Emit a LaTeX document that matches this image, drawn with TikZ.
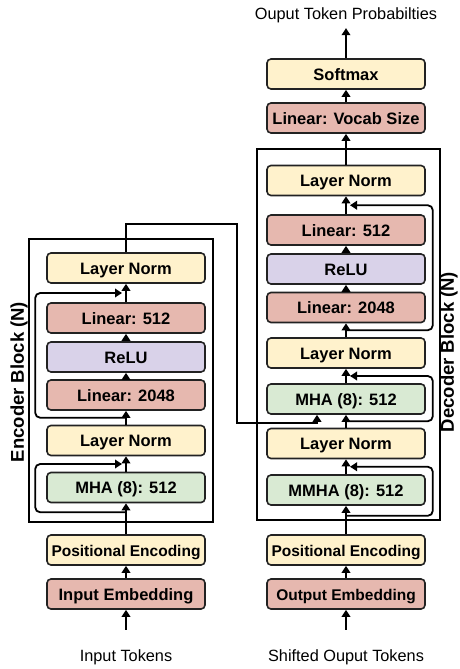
\documentclass[tikz,border=0pt]{standalone}
\usepackage{fontspec}
\setmainfont{Liberation Sans}
\usepackage{tikz}
\usetikzlibrary{arrows.meta,calc}

\definecolor{normcol}{HTML}{FFF2CC}
\definecolor{lincol}{HTML}{E6B8AF}
\definecolor{relucol}{HTML}{D9D2E9}
\definecolor{attcol}{HTML}{D9EAD3}
\definecolor{edgecol}{HTML}{222222}

\begin{document}
\begin{tikzpicture}[x=1pt,y=-1pt,
    layer/.style={draw=edgecol,line width=1.6pt,rounded corners=4pt,
      minimum width=158pt,minimum height=30pt,inner sep=0pt,
      text height=12.5pt,text depth=0pt,
      font=\fontsize{16.5}{18}\selectfont\bfseries},
    narrow/.style={font=\fontsize{15.5}{18}\selectfont\bfseries},
    caption/.style={font=\fontsize{16.3}{18}\selectfont},
    blocklabel/.style={rotate=90,font=\fontsize{18.5}{22}\selectfont\bfseries},
    block/.style={draw=black,line width=1.8pt},
    arr/.style={line width=1.8pt,-{Triangle[length=7pt,width=8.5pt]}},
    res/.style={arr,rounded corners=5pt}]
  \useasboundingbox (0,0) rectangle (459,669);

  % encoder side
  \draw[block] (29,239) rectangle (213,522);
  \node[blocklabel] (encLabel) at (19,382) {Encoder Block (N)};
  \node[caption] (encIn) at (126,657) {Input Tokens};
  \node[layer,fill=lincol] (encEmb) at (126,594) {Input Embedding};
  \node[layer,fill=normcol,narrow] (encPos) at (126,550) {Positional Encoding};
  \node[layer,fill=attcol] (encMHA) at (126,487.5) {MHA (8): 512};
  \node[layer,fill=normcol] (encNormA) at (126,440.5) {Layer Norm};
  \node[layer,fill=lincol] (encLinA) at (126,395) {Linear: 2048};
  \node[layer,fill=relucol] (encReLU) at (126,357) {ReLU};
  \node[layer,fill=lincol] (encLinB) at (126,318) {Linear: 512};
  \node[layer,fill=normcol] (encNormB) at (126,268) {Layer Norm};

  \draw[arr] ([yshift=16pt]encIn.north) -- (encEmb);
  \draw[arr] (encEmb) -- (encPos);
  \draw[arr] (encPos) -- (encMHA);
  \draw[arr] (encMHA) -- (encNormA);
  \draw[arr] (encNormA) -- (encLinA);
  \draw[arr] (encLinA) -- (encReLU);
  \draw[arr] (encReLU) -- (encLinB);
  \draw[arr] (encLinB) -- (encNormB);
  % residuals (left)
  \draw[res] ($(encMHA.south)+(0,9)$) -| ([xshift=-11pt]encMHA.west)
    |- ([xshift=-4pt]$(encMHA.north)!.5!(encNormA.south)$);
  \draw[res] ($(encLinA.south)!.5!(encNormA.north)$) -| ([xshift=-11pt]encReLU.west)
    |- ([xshift=-4pt]$(encLinB.north)!.5!(encNormB.south)$);

  % decoder side
  \draw[block] (257,149) rectangle (440,520);
  \node[blocklabel] (decLabel) at (449,352) {Decoder Block (N)};
  \node[caption] (decIn) at (346,657) {Shifted Ouput Tokens};
  \node[layer,fill=lincol,narrow] (decEmb) at (346,594) {Output Embedding};
  \node[layer,fill=normcol,narrow] (decPos) at (346,550) {Positional Encoding};
  \node[layer,fill=attcol] (decMMHA) at (346,490) {MMHA (8): 512};
  \node[layer,fill=normcol] (decNormA) at (346,443.5) {Layer Norm};
  \node[layer,fill=attcol] (decMHA) at (346,399) {MHA (8): 512};
  \node[layer,fill=normcol] (decNormB) at (346,353) {Layer Norm};
  \node[layer,fill=lincol] (decLinA) at (346,307.5) {Linear: 2048};
  \node[layer,fill=relucol] (decReLU) at (346,269) {ReLU};
  \node[layer,fill=lincol] (decLinB) at (346,230) {Linear: 512};
  \node[layer,fill=normcol] (decNormC) at (346,180.5) {Layer Norm};
  \node[layer,fill=lincol] (vocab) at (346,118) {Linear: Vocab Size};
  \node[layer,fill=normcol] (softmax) at (346,74) {Softmax};
  \node[caption] (decOut) at (346,15) {Ouput Token Probabilties};

  \draw[arr] ([yshift=16pt]decIn.north) -- (decEmb);
  \draw[arr] (decEmb) -- (decPos);
  \draw[arr] (decPos) -- (decMMHA);
  \draw[arr] (decMMHA) -- (decNormA);
  \draw[arr] (decNormA) -- (decMHA);
  \draw[arr] (decMHA) -- (decNormB);
  \draw[arr] (decNormB) -- (decLinA);
  \draw[arr] (decLinA) -- (decReLU);
  \draw[arr] (decReLU) -- (decLinB);
  \draw[arr] (decLinB) -- (decNormC);
  \draw[arr] (decNormC) -- (vocab);
  \draw[arr] (vocab) -- (softmax);
  \draw[arr] (softmax) -- ([yshift=-2pt]decOut.south);
  % residuals (right)
  \draw[res] ($(decMMHA.south)+(0,10)$) -| ([xshift=7pt]decMMHA.east)
    |- ([xshift=4pt]$(decMMHA.north)!.5!(decNormA.south)$);
  \draw[res] ($(decMHA.south)!.5!(decNormA.north)$) -| ([xshift=7pt]decMHA.east)
    |- ([xshift=4pt]$(decMHA.north)!.5!(decNormB.south)$);
  \draw[res] ($(decLinA.south)!.5!(decNormB.north)$) -| ([xshift=7pt]decReLU.east)
    |- ([xshift=4pt]$(decLinB.north)!.5!(decNormC.south)$);

  % encoder output into decoder attention
  \draw[arr] (encNormB.north) |- (237,224) |- (317,423) -- ([xshift=-29pt]decMHA.south);
\end{tikzpicture}
\end{document}
